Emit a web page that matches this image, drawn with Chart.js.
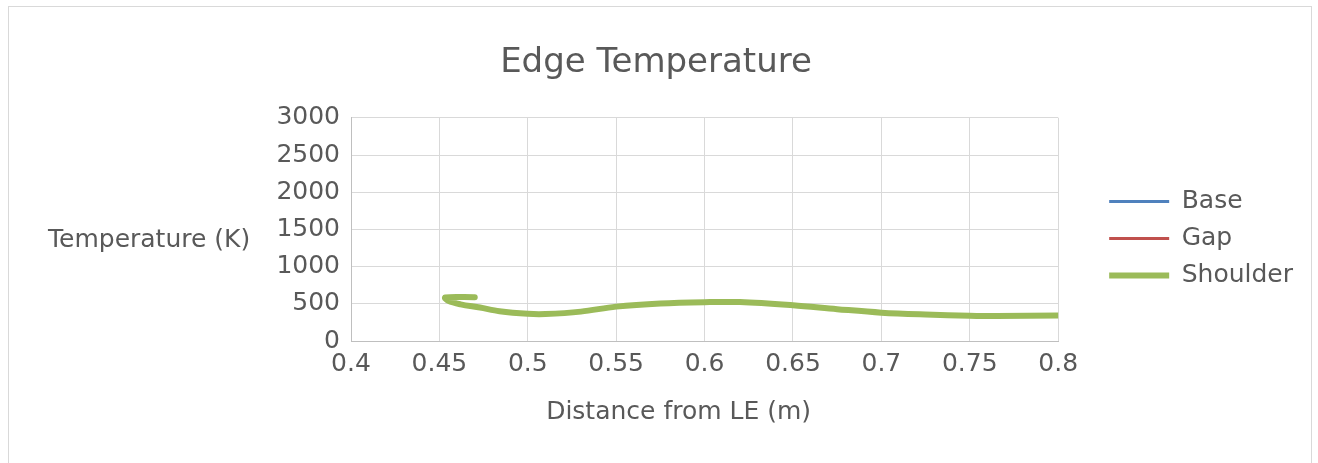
<!DOCTYPE html>
<html lang="en">
<head>
    <meta charset="UTF-8">
    <title>Edge Temperature</title>
    <script src="https://cdn.jsdelivr.net/npm/chart.js"></script>
    <style>
        body { margin: 0; background: #fff; }
        #box { position: absolute; left: 8px; top: 6px; width: 1302px; height: 470px; border: 1px solid #d9d9d9; }
    </style>
</head>
<body>
    <div id="box"><canvas id="edgeChart"></canvas></div>

    <script>
        // values
        const seriesNames = ['Base', 'Gap', 'Shoulder'];
        const baseX = [], baseY = [];   // hidden under Shoulder, nothing readable
        const gapX = [], gapY = [];
        const shoulderX = [0.470, 0.4533, 0.455, 0.462, 0.473, 0.484, 0.5, 0.51, 0.53, 0.55, 0.575, 0.6, 0.62, 0.65, 0.675, 0.7, 0.725, 0.75, 0.765, 0.8];
        const shoulderY = [588, 585, 540, 493, 450, 400, 365, 362, 395, 462, 505, 522, 523, 480, 428, 381, 356, 340, 336, 343];
        const xTicks = [0.4, 0.45, 0.5, 0.55, 0.6, 0.65, 0.7, 0.75, 0.8];
        const yTicks = [0, 500, 1000, 1500, 2000, 2500, 3000];
        const chartTitle = 'Edge Temperature';
        const xTitle = 'Distance from LE (m)';
        const yTitle = 'Temperature (K)';

        const FONT = '"DejaVu Sans", sans-serif';
        const GREY = '#595959';
        const toPoints = (xs, ys) => xs.map((x, i) => ({ x: x, y: ys[i] }));

        // axis titles placed the way Excel had them (y one horizontal, x one off-centre)
        const axisTitlesPlugin = {
            id: 'axisTitles',
            afterDraw(chart) {
                const { ctx, chartArea } = chart;
                ctx.save();
                ctx.font = '25px ' + FONT;
                ctx.fillStyle = GREY;
                ctx.textBaseline = 'middle';
                ctx.textAlign = 'left';
                ctx.fillText(yTitle, chartArea.left - 303, (chartArea.top + chartArea.bottom) / 2 + 11);
                ctx.textAlign = 'center';
                ctx.fillText(xTitle, (chartArea.left + chartArea.right) / 2 - 26, chartArea.bottom + 71);
                ctx.restore();
            }
        };

        const ctx = document.getElementById('edgeChart').getContext('2d');
        new Chart(ctx, {
            type: 'scatter',
            data: {
                datasets: [
                    { label: seriesNames[0], data: toPoints(baseX, baseY), borderColor: '#4f81bd', backgroundColor: '#4f81bd', borderWidth: 3 },
                    { label: seriesNames[1], data: toPoints(gapX, gapY), borderColor: '#c0504d', backgroundColor: '#c0504d', borderWidth: 3 },
                    { label: seriesNames[2], data: toPoints(shoulderX, shoulderY), borderColor: '#9bbb59', backgroundColor: '#9bbb59', borderWidth: 6 }
                ].map(d => Object.assign(d, { showLine: true, pointRadius: 0, tension: 0.35, borderCapStyle: 'round', borderJoinStyle: 'round' }))
            },
            options: {
                responsive: true,
                maintainAspectRatio: false,
                animation: false,
                layout: { padding: { left: 0, right: 8, top: 0, bottom: 90 } },
                plugins: {
                    title: {
                        display: true, text: chartTitle, color: GREY,
                        font: { family: FONT, size: 34, weight: 'normal' },
                        padding: { top: 36, bottom: 34 }
                    },
                    legend: {
                        position: 'right',
                        // empty title only pushes the centred entries down a little
                        title: { display: true, text: '', font: { size: 10 }, padding: { top: 71, bottom: 0 } },
                        labels: {
                            color: GREY, font: { family: FONT, size: 25 },
                            usePointStyle: true, pointStyle: 'line', pointStyleWidth: 60,
                            padding: 12
                        }
                    },
                    tooltip: { enabled: false }
                },
                scales: {
                    x: {
                        type: 'linear', min: xTicks[0], max: xTicks[xTicks.length - 1],
                        afterBuildTicks: axis => { axis.ticks = xTicks.map(v => ({ value: v })); },
                        ticks: { color: GREY, font: { family: FONT, size: 25 }, padding: 8, callback: v => String(+v.toFixed(2)) },
                        grid: { color: '#d9d9d9', drawTicks: false },
                        border: { color: '#bfbfbf' }
                    },
                    y: {
                        min: yTicks[0], max: yTicks[yTicks.length - 1],
                        afterBuildTicks: axis => { axis.ticks = yTicks.map(v => ({ value: v })); },
                        // wide enough to leave room for the horizontal title drawn by the plugin
                        afterFit: axis => { axis.width = 342; },
                        ticks: { color: GREY, font: { family: FONT, size: 25 }, padding: 11, callback: v => String(v) },
                        grid: { color: '#d9d9d9', drawTicks: false },
                        border: { color: '#bfbfbf' }
                    },
                    // empty axis: keeps the gap between the plot and the legend
                    gap: {
                        type: 'linear', position: 'right', display: true,
                        afterFit: axis => { axis.width = 39; },
                        ticks: { display: false },
                        grid: { display: false },
                        border: { display: false }
                    }
                }
            },
            plugins: [axisTitlesPlugin]
        });
    </script>
</body>
</html>
